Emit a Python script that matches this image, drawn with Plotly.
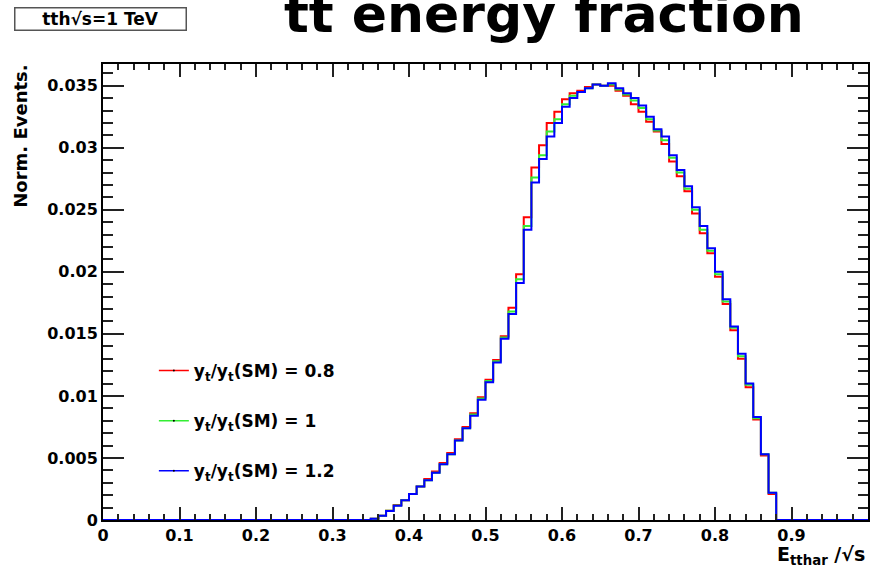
import plotly.graph_objects as go

# ---------------- data ----------------
bin_width = 0.01
n_bins = 100
first_nonzero_bin = 35  # bin starting at x = 0.35

ratio_labels = ["0.8", "1", "1.2"]
line_colors = ["#ff0000", "#33ee33", "#0000ff"]

red_vals = [0.0001, 0.00035, 0.00075, 0.0012, 0.0016, 0.0021, 0.0027, 0.0033, 0.0039, 0.0046,
            0.0054, 0.0065, 0.0075, 0.0086, 0.0099, 0.0113,
            0.0129, 0.0148, 0.0171, 0.0198, 0.0244, 0.0284, 0.0302, 0.0320, 0.0329, 0.0339,
            0.0344, 0.0346, 0.0349, 0.0351, 0.0350, 0.0350, 0.0346, 0.0342, 0.0335, 0.0329,
            0.0321, 0.0313, 0.0303, 0.0289, 0.0277, 0.0265, 0.0247, 0.0231, 0.0215, 0.0196,
            0.0174, 0.0153, 0.0130, 0.0107, 0.0081, 0.0052, 0.0021]
green_vals = [0.0001, 0.00035, 0.00074, 0.00117, 0.0016, 0.0021, 0.0027, 0.0032, 0.0038, 0.0045,
              0.0053, 0.0064, 0.0074, 0.0085, 0.0098, 0.0112,
              0.0128, 0.0147, 0.0168, 0.0194, 0.0237, 0.0276, 0.0294, 0.0313, 0.0323, 0.0335,
              0.0342, 0.0345, 0.0348, 0.0351, 0.0350, 0.0351, 0.0347, 0.0343, 0.0338, 0.0332,
              0.0323, 0.0314, 0.0306, 0.0292, 0.0280, 0.0267, 0.0250, 0.0234, 0.0217, 0.0198,
              0.0176, 0.0155, 0.0132, 0.0109, 0.0082, 0.0053, 0.0022]
blue_vals = [0.0001, 0.00035, 0.00073, 0.00115, 0.0016, 0.0021, 0.0027, 0.0032, 0.0038, 0.0045,
             0.0053, 0.0064, 0.0074, 0.0084, 0.0097, 0.0111,
             0.0127, 0.0146, 0.0166, 0.0191, 0.0234, 0.0272, 0.0291, 0.0309, 0.0320, 0.0333,
             0.0340, 0.0345, 0.0348, 0.0351, 0.0350, 0.0352, 0.0348, 0.0344, 0.0340, 0.0334,
             0.0325, 0.0315, 0.0309, 0.0294, 0.0282, 0.0269, 0.0252, 0.0237, 0.0219, 0.0200,
             0.0178, 0.0156, 0.0134, 0.0110, 0.0083, 0.0053, 0.0022]

x_tick_vals = [0, 0.1, 0.2, 0.3, 0.4, 0.5, 0.6, 0.7, 0.8, 0.9, 1.0]
x_tick_text = ["0", "0.1", "0.2", "0.3", "0.4", "0.5", "0.6", "0.7", "0.8", "0.9", "1"]
y_tick_vals = [0, 0.005, 0.01, 0.015, 0.02, 0.025, 0.03, 0.035]
y_tick_text = ["0", "0.005", "0.01", "0.015", "0.02", "0.025", "0.03", "0.035"]
y_max = 0.03675

# ---------------- figure ----------------
W, H = 873, 567
L, R, T, B = 103, 3, 64, 47
pw, ph = W - L - R, H - T - B


def px(x):
    return (x - L) / pw


def py(y):
    return (H - B - y) / ph


FONT = "DejaVu Sans"

fig = go.Figure()

for vals, col, lab in zip([red_vals, green_vals, blue_vals], line_colors, ratio_labels):
    full = [0.0] * n_bins
    full[first_nonzero_bin:first_nonzero_bin + len(vals)] = vals
    edges = [i * bin_width for i in range(n_bins + 1)]
    fig.add_trace(go.Scatter(
        x=edges, y=full + [full[-1]], mode="lines", line_shape="hv",
        line=dict(color=col, width=2), showlegend=False, hoverinfo="skip"))

for col, lab in zip(line_colors, ratio_labels):
    fig.add_trace(go.Scatter(
        x=[None], y=[None], mode="lines+markers",
        line=dict(color=col, width=1.5),
        marker=dict(color="black", size=2),
        name=f"y<sub>t</sub>/y<sub>t</sub>(SM) = {lab}",
        legendgroup=lab, showlegend=True))

axis_common = dict(
    showline=True, linecolor="black", linewidth=2, mirror="allticks",
    ticks="inside", tickcolor="#222", tickwidth=1.5, showgrid=False, zeroline=False,
    tickfont=dict(family=FONT, size=16, color="black", weight="bold"),
)

fig.update_xaxes(range=[0, 1], tickvals=x_tick_vals, ticktext=x_tick_text, ticklen=13,
                 minor=dict(dtick=0.02, tick0=0, ticklen=6, ticks="inside",
                            tickcolor="#222", tickwidth=1.5, showgrid=False),
                 **axis_common)
fig.update_yaxes(range=[0, y_max], tickvals=y_tick_vals, ticktext=y_tick_text, ticklen=21,
                 minor=dict(dtick=0.001, tick0=0, ticklen=10, ticks="inside",
                            tickcolor="#222", tickwidth=1.5, showgrid=False),
                 **axis_common)

fig.update_layout(
    width=W, height=H,
    margin=dict(l=L, r=R, t=T, b=B, pad=0),
    paper_bgcolor="white", plot_bgcolor="white",
    showlegend=True,
    legend=dict(x=px(154), y=py(353), xanchor="left", yanchor="top",
                bgcolor="rgba(0,0,0,0)", borderwidth=0,
                traceorder="grouped", tracegroupgap=25,
                font=dict(family=FONT, size=17, color="black", weight="bold")),
    annotations=[
        dict(text="tt energy fraction", x=px(545), y=py(14), xref="paper", yref="paper",
             xanchor="center", yanchor="middle", showarrow=False,
             font=dict(family=FONT, size=52, color="black", weight="bold")),
        dict(text="tth√s=1 TeV", x=px(100), y=py(19.5), xref="paper", yref="paper",
             xanchor="center", yanchor="middle", showarrow=False,
             width=168, height=19, bordercolor="#555", borderwidth=1.5, borderpad=1,
             bgcolor="white",
             font=dict(family=FONT, size=17, color="black", weight="bold")),
        dict(text="Norm. Events.", x=px(20), y=py(63), xref="paper", yref="paper",
             xanchor="center", yanchor="top", textangle=-90, showarrow=False,
             font=dict(family=FONT, size=18, color="black", weight="bold")),
        dict(text="E<sub>tthar</sub> /√s", x=px(869), y=py(541), xref="paper", yref="paper",
             xanchor="right", yanchor="top", showarrow=False,
             font=dict(family=FONT, size=19, color="black", weight="bold")),
    ],
)

fig.write_html("out.html")
